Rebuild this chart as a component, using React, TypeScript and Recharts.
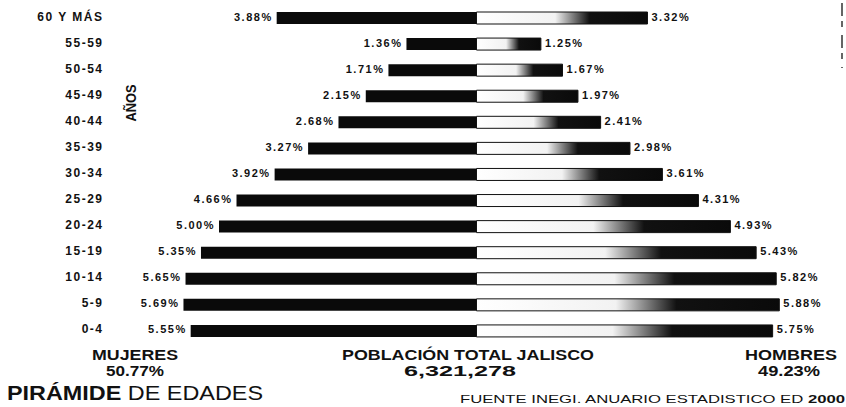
import React from 'react';
import { BarChart, Bar, XAxis, YAxis, LabelList } from 'recharts';

const ageGroups = ['60 Y MÁS', '55-59', '50-54', '45-49', '40-44', '35-39', '30-34', '25-29', '20-24', '15-19', '10-14', '5-9', '0-4'];
const mujeres = [3.88, 1.36, 1.71, 2.15, 2.68, 3.27, 3.92, 4.66, 5.0, 5.35, 5.65, 5.69, 5.55];
const hombres = [3.32, 1.25, 1.67, 1.97, 2.41, 2.98, 3.61, 4.31, 4.93, 5.43, 5.82, 5.88, 5.75];

const totals = { mujeres: '50.77%', hombres: '49.23%', poblacion: '6,321,278' };

const FONT = '"Liberation Sans", Arial, Helvetica, sans-serif';

// women go to the left, so they are stored negative
const chartData = ageGroups.map((age, i) => ({
  age,
  mujeres: -mujeres[i],
  hombres: hombres[i],
}));

const fmt = (v: number) => `${Math.abs(v).toFixed(2)}%`;

const AgeTick = (props: any) => {
  const { x, y, payload } = props;
  return (
    <text
      x={x + 1.5}
      y={y + 2.5}
      textAnchor="end"
      fontFamily={FONT}
      fontWeight={700}
      fontSize={12}
      letterSpacing={1.5}
      fill="#111"
    >
      {payload.value}
    </text>
  );
};

const LeftLabel = (props: any) => {
  const { x, y, width, height, value } = props;
  const left = Math.min(x, x + width);
  return (
    <text
      x={left - 4}
      y={y + height / 2 + 2.5}
      textAnchor="end"
      fontFamily={FONT}
      fontWeight={700}
      fontSize={11}
      letterSpacing={1.5}
      fill="#111"
    >
      {fmt(value)}
    </text>
  );
};

const RightLabel = (props: any) => {
  const { x, y, width, height, value } = props;
  const right = Math.max(x, x + width);
  return (
    <text
      x={right + 4}
      y={y + height / 2 + 2.5}
      textAnchor="start"
      fontFamily={FONT}
      fontWeight={700}
      fontSize={11}
      letterSpacing={1.5}
      fill="#111"
    >
      {fmt(value)}
    </text>
  );
};

export default function App() {
  return (
    <div style={{ position: 'absolute', left: 0, top: 0, width: 846, height: 407, background: '#fff' }}>
      <BarChart
        width={846}
        height={407}
        layout="vertical"
        data={chartData}
        stackOffset="sign"
        barSize={12}
        margin={{ top: 5, right: 9, bottom: 63, left: 0 }}
      >
        <defs>
          <linearGradient id="hGrad" x1="0" y1="0" x2="1" y2="0">
            <stop offset="0%" stopColor="#ffffff" />
            <stop offset="46%" stopColor="#f2f2f2" />
            <stop offset="66%" stopColor="#111111" />
            <stop offset="100%" stopColor="#0a0a0a" />
          </linearGradient>
        </defs>
        <XAxis type="number" domain={[-7, 7]} hide />
        <YAxis
          type="category"
          dataKey="age"
          width={116}
          axisLine={false}
          tickLine={false}
          tickSize={0}
          tickMargin={14}
          interval={0}
          tick={<AgeTick />}
        />
        <Bar dataKey="mujeres" stackId="p" fill="#0a0a0a" isAnimationActive={false}>
          <LabelList dataKey="mujeres" content={<LeftLabel />} />
        </Bar>
        <Bar dataKey="hombres" stackId="p" fill="url(#hGrad)" stroke="#111" strokeWidth={1} isAnimationActive={false}>
          <LabelList dataKey="hombres" content={<RightLabel />} />
        </Bar>
      </BarChart>

      {/* titles and notes around the pyramid */}
      <svg
        width={846}
        height={407}
        style={{ position: 'absolute', left: 0, top: 0, pointerEvents: 'none' }}
        fontFamily={FONT}
        fill="#111"
      >
        <text transform="translate(136,103) rotate(-90)" textAnchor="middle" fontSize={14} fontWeight={700} textLength={37} lengthAdjust="spacingAndGlyphs">
          AÑOS
        </text>
        <line x1={842} y1={3} x2={842} y2={68} stroke="#333" strokeWidth={1.5} strokeDasharray="13 5 6 8" />

        <text x={135} y={360} textAnchor="middle" fontSize={14} fontWeight={700} textLength={86} lengthAdjust="spacingAndGlyphs">MUJERES</text>
        <text x={135} y={376} textAnchor="middle" fontSize={14} fontWeight={700} textLength={58} lengthAdjust="spacingAndGlyphs">{totals.mujeres}</text>

        <text x={468} y={360} textAnchor="middle" fontSize={14} fontWeight={700} textLength={252} lengthAdjust="spacingAndGlyphs">POBLACIÓN TOTAL JALISCO</text>
        <text x={460} y={376} textAnchor="middle" fontSize={14} fontWeight={700} textLength={112} lengthAdjust="spacingAndGlyphs">{totals.poblacion}</text>

        <text x={791} y={360} textAnchor="middle" fontSize={14} fontWeight={700} textLength={92} lengthAdjust="spacingAndGlyphs">HOMBRES</text>
        <text x={789} y={376} textAnchor="middle" fontSize={14} fontWeight={700} textLength={62} lengthAdjust="spacingAndGlyphs">{totals.hombres}</text>

        <text x={7} y={400} fontSize={20} textLength={256} lengthAdjust="spacingAndGlyphs">
          <tspan fontWeight={700}>PIRÁMIDE</tspan> DE EDADES
        </text>
        <text x={460} y={403} fontSize={11} textLength={385} lengthAdjust="spacingAndGlyphs">
          FUENTE  INEGI. ANUARIO ESTADISTICO ED  <tspan fontWeight={700}>2000</tspan>
        </text>
      </svg>
    </div>
  );
}
